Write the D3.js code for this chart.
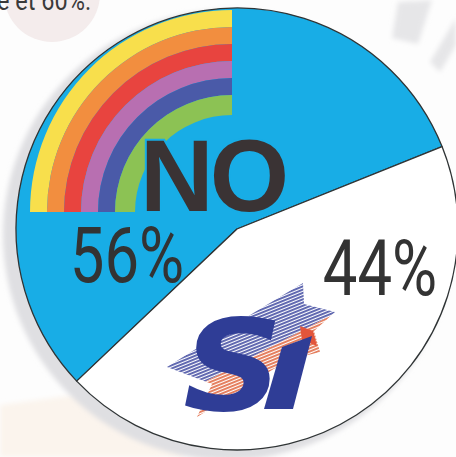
<!DOCTYPE html>
<html><head><meta charset="utf-8">
<script src="https://cdn.jsdelivr.net/npm/d3@7/dist/d3.min.js"></script>
<style>html,body{margin:0;padding:0;background:#fdfdfd;overflow:hidden}svg{display:block}</style>
</head><body>
<script>
const categories = ["NO", "SI"];
const values = [56, 44];
const labels = ["56%", "44%"];
const rainbowColors = ["#f8df4c", "#f28e3f", "#e8443f", "#b86fb1", "#4a5aa8", "#8cc254"];
const headline = "e et 60%.";

const W = 456, H = 457;
const svg = d3.select("body").append("svg").attr("width", W).attr("height", H);
const defs = svg.append("defs");

defs.append("filter").attr("id", "blur").append("feGaussianBlur").attr("stdDeviation", 2.5);
function hatch(id, color) {
  const p = defs.append("pattern").attr("id", id).attr("patternUnits", "userSpaceOnUse")
    .attr("width", 6).attr("height", 3).attr("patternTransform", "rotate(-22)");
  p.append("rect").attr("width", 6).attr("height", 1.9).attr("fill", color);
}
hatch("hBlue", "#5a62ad");
hatch("hRed", "#e47a58");

// background decorations
svg.append("rect").attr("width", W).attr("height", H).attr("fill", "#fdfdfd");
svg.append("circle").attr("cx", 52).attr("cy", -6).attr("r", 48).attr("fill", "#f4ecec");
svg.append("path").attr("d", "M0,405 L150,385 L185,457 L0,457Z").attr("fill", "#fbf4ed").attr("filter", "url(#blur)");
svg.append("path").attr("d", "M398,2 L432,0 L418,44 L392,38Z").attr("fill", "#e6e6e8").attr("filter", "url(#blur)");
svg.append("path").attr("d", "M430,62 L456,18 L456,45 L440,72Z").attr("fill", "#e6e6e8").attr("filter", "url(#blur)");

// headline (cut at top, as in the source page)
svg.append("text").attr("transform", "translate(-3,10) scale(0.84,1)")
  .attr("font-family", "Roboto").attr("font-weight", 400).attr("font-size", 28)
  .attr("fill", "#3a3a3a").text(headline);

const cx = 237, cy = 229, R = 221;
// shadow
svg.append("circle").attr("cx", cx - 9).attr("cy", cy + 6).attr("r", R + 4)
  .attr("fill", "#dfdfe2").attr("filter", "url(#blur)");

const g = svg.append("g").attr("transform", `translate(${cx},${cy})`);
const a0 = 226.5 * Math.PI / 180;
const pie = d3.pie().sort(null).value(d => d).startAngle(a0).endAngle(a0 + 2 * Math.PI);
const arcs = pie(values);
const arc = d3.arc().innerRadius(0).outerRadius(R);
const fills = ["#18ade6", "#ffffff"];
g.selectAll("path.slice").data(arcs).join("path").attr("class", "slice")
  .attr("d", arc).attr("fill", (d, i) => fills[i])
  .attr("stroke", "#2f3435").attr("stroke-width", 1.3).attr("stroke-linejoin", "round");

// rainbow (NO logo)
const rg = svg.append("g").attr("transform", "translate(232,212)");
const bandW = 17, rOuter = 202;
const rArc = d3.arc().startAngle(-Math.PI / 2).endAngle(0);
rg.selectAll("path").data(rainbowColors).join("path")
  .attr("d", (c, i) => rArc({innerRadius: i === 5 ? rOuter - bandW * 5 - 20 : rOuter - bandW * (i + 1), outerRadius: rOuter - bandW * i}))
  .attr("fill", c => c);

svg.append("text").attr("x", 140).attr("y", 211)
  .attr("font-family", "Liberation Sans, Arial").attr("font-weight", 700).attr("font-size", 102)
  .attr("letter-spacing", -4)
  .attr("fill", "#3a3334").attr("stroke", "#18ade6").attr("stroke-width", 4)
  .attr("paint-order", "stroke").text(categories[0]);

// SI logo
const lg = svg.append("g");
const star = "M167,367 L255,312 L303,283 L304,304 L335,312 L314,331 L320,352 L288,360 L197,417 L212,384Z";
defs.append("clipPath").attr("id", "upper").append("path").attr("d", "M150,250 L360,250 L360,300 L180,395 L150,395Z");
defs.append("clipPath").attr("id", "lower").append("path").attr("d", "M360,300 L180,395 L150,395 L150,440 L360,440Z");
lg.append("path").attr("d", star).attr("fill", "url(#hBlue)").attr("clip-path", "url(#upper)");
lg.append("path").attr("d", star).attr("fill", "url(#hRed)").attr("clip-path", "url(#lower)");
lg.append("path").attr("d", "M300,326 L313,331 L317,346 L302,340Z").attr("fill", "#e2553b");
lg.append("text").attr("transform", "translate(183,410) scale(1.1,1)")
  .attr("font-family", "DejaVu Sans").attr("font-weight", 700).attr("font-style", "italic")
  .attr("font-size", 126).attr("fill", "#2f3d96").text(categories[1][0]);
lg.append("path").attr("d", "M282,347 L312,336 L293,409 L264,409Z").attr("fill", "#2f3d96");

// percentage labels
const labelPos = [[127, 282], [380, 295]];
svg.selectAll("text.pct").data(labels).join("text").attr("class", "pct")
  .attr("transform", (d, i) => `translate(${labelPos[i][0]},${labelPos[i][1]}) scale(0.8,1)`)
  .attr("text-anchor", "middle")
  .attr("font-family", "Roboto").attr("font-weight", 400).attr("font-size", 77)
  .attr("fill", "#333333").text(d => d);
</script>
</body></html>
